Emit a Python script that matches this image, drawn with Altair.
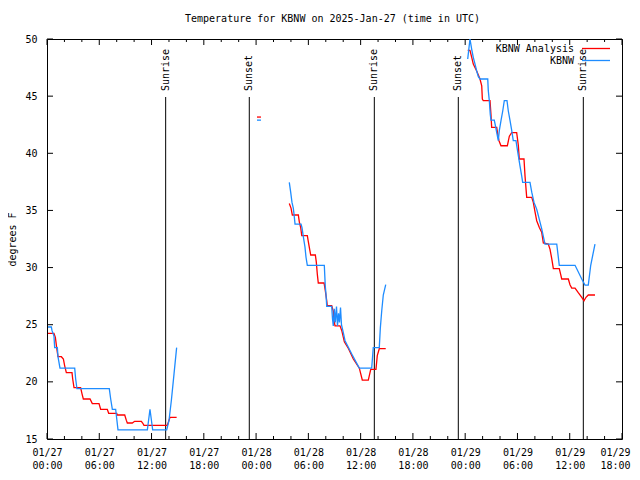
import altair as alt
import pandas as pd

W, H = 575, 400
FONT = "DejaVu Sans Mono"

# hours since 2025-01-27 00:00 UTC ; None separates line pieces
analysis_hours = [
    0.11, 0.80, 0.96, 1.11, 1.26, 1.65, 1.88, 2.03, 2.22, 2.87, 2.95, 3.10, 3.86, 4.02, 4.17,
    4.94, 5.20, 5.97, 6.16, 6.92, 7.08, 8.00, 8.07, 8.92, 9.10, 9.22, 9.79, 10.06, 10.83, 10.98,
    11.13, 13.81, 14.12, 14.88,
    None,
    24.10, 24.56,
    None,
    27.81, 28.01, 28.16, 28.85, 28.96, 29.12, 29.24, 29.88, 29.99, 30.15, 30.27, 30.80, 30.91,
    31.03, 31.14, 31.80, 31.94, 32.11, 32.17, 32.68, 32.86, 32.94, 33.06, 33.63, 33.83, 34.13,
    34.61, 35.16, 35.85, 36.19, 36.88, 37.16, 37.76, 37.91, 38.14, 38.88,
    None,
    48.29, 48.55, 48.75, 48.93, 49.32, 49.70, 49.90, 49.97, 50.08, 50.85, 50.96, 51.04, 51.62,
    51.73, 51.88, 52.11, 52.84, 53.07, 53.34, 53.91, 54.10, 54.21, 54.75, 54.87, 55.06, 55.64,
    55.82, 56.01, 56.21, 56.51, 56.78, 56.97, 57.54, 57.74, 57.93, 58.12, 58.80, 58.96, 59.08,
    59.84, 60.03, 60.23, 60.61, 60.98, 61.38, 61.64, 61.87, 62.13, 62.90,
]
analysis_temps = [
    24.25, 24.25, 23.9, 23.0, 22.2, 22.2, 22.0, 21.4, 20.8, 20.8, 20.25, 19.5, 19.5, 18.95, 18.5,
    18.5, 18.1, 18.1, 17.6, 17.6, 17.25, 17.25, 17.1, 17.1, 16.65, 16.4, 16.4, 16.55, 16.55, 16.4,
    16.2, 16.2, 16.9, 16.9,
    None,
    43.17, 43.17,
    None,
    35.6, 35.2, 34.6, 34.6, 34.0, 33.5, 32.8, 32.8, 32.3, 31.6, 31.1, 31.1, 30.5, 29.4, 28.65,
    28.65, 28.0, 27.1, 26.66, 26.66, 26.2, 25.4, 24.9, 24.9, 24.5, 23.5, 22.9, 22.0, 21.2, 20.16,
    20.16, 21.1, 21.1, 22.3, 22.9, 22.9,
    None,
    49.0, 49.0, 48.4, 47.8, 47.2, 46.5, 45.9, 44.75, 44.6, 44.6, 43.4, 42.27, 42.27, 41.7, 41.1,
    40.66, 40.66, 41.5, 41.8, 41.8, 40.7, 39.5, 39.5, 38.0, 36.15, 36.15, 35.7, 34.9, 34.1, 33.5,
    33.1, 32.15, 32.06, 31.6, 30.8, 29.9, 29.9, 29.4, 29.0, 29.0, 28.5, 28.2, 28.2, 27.8, 27.4,
    27.1, 27.4, 27.6, 27.6,
]

kbnw_hours = [
    0.11, 0.50, 0.57, 0.80, 0.88, 1.19, 1.26, 1.49, 3.18, 3.29, 3.44, 7.15, 7.31, 7.50, 7.88,
    8.15, 11.52, 11.82, 12.13, 13.74, 14.00, 14.27, 14.58, 14.88,
    None,
    24.10, 24.56,
    None,
    27.81, 27.97, 28.12, 28.27, 28.35, 28.47, 29.16, 29.27, 29.42, 29.61, 29.73, 29.88, 31.83,
    31.94, 32.02, 32.11, 32.68, 32.77, 32.86, 32.98, 33.09, 33.23, 33.34, 33.46, 33.57, 33.69,
    33.80, 34.01, 34.21, 35.01, 35.85, 37.27, 37.45, 38.14, 38.26, 38.42, 38.60, 38.88,
    None,
    48.29, 48.55, 48.75, 48.93, 49.13, 49.32, 49.51, 49.70, 50.59, 50.65, 50.77, 50.88, 50.96,
    51.34, 51.50, 51.65, 51.80, 51.92, 52.11, 52.31, 52.49, 52.80, 52.95, 53.15, 53.34, 53.52,
    53.83, 54.10, 54.29, 54.49, 54.60, 55.44, 55.64, 55.90, 56.21, 56.78, 57.16, 58.51, 58.80,
    60.61, 61.38, 61.75, 62.13, 62.41, 62.90,
]
kbnw_temps = [
    24.8, 24.8, 24.5, 24.0, 23.0, 23.0, 22.2, 21.2, 21.2, 20.25, 19.4, 19.4, 18.5, 17.6, 17.6,
    15.8, 15.8, 17.6, 15.8, 15.8, 16.6, 18.35, 20.7, 23.0,
    None,
    42.9, 42.9,
    None,
    37.46, 36.6, 35.7, 35.2, 34.7, 33.8, 33.8, 33.5, 32.7, 31.8, 30.9, 30.2, 30.2, 28.4, 27.7,
    26.6, 26.6, 25.5, 24.9, 26.4, 25.2, 26.6, 24.9, 26.0, 25.2, 26.5, 25.0, 24.3, 23.6, 22.4,
    21.2, 21.2, 23.0, 23.0, 24.7, 26.2, 27.6, 28.5,
    None,
    48.25, 50.0, 49.1, 48.4, 47.8, 47.2, 46.7, 46.5, 46.5, 45.5, 44.6, 43.4, 42.9, 42.9, 42.3,
    41.7, 41.1, 42.0, 42.85, 43.7, 44.6, 44.6, 43.7, 42.85, 42.0, 41.1, 41.1, 39.8, 38.9, 38.0,
    37.46, 37.46, 36.6, 35.7, 35.1, 33.4, 32.06, 32.06, 30.2, 30.2, 29.0, 28.47, 28.47, 30.2, 32.06,
]

event_hours = [13.62, 23.22, 37.57, 47.21, 61.56]
event_labels = ["Sunrise", "Sunset", "Sunrise", "Sunset", "Sunrise"]

y_ticks = [15, 20, 25, 30, 35, 40, 45, 50]
x_major = list(range(0, 67, 6))
x_minor = [h for h in range(0, 67, 2) if h % 6]

title_text = ["Temperature for KBNW on 2025-Jan-27 (time in UTC)"]
series_names = ["KBNW Analysis", "KBNW"]
series_colors = ["#ff0000", "#1e8cff"]


def pieces(hours, temps, name):
    rows, seg = [], 0
    for h, t in zip(hours, temps):
        if h is None:
            seg += 1
            continue
        rows.append({"hour": h, "temp": t, "seg": f"{name}-{seg}"})
    return pd.DataFrame(rows)


df_a = pieces(analysis_hours, analysis_temps, "a")
df_k = pieces(kbnw_hours, kbnw_temps, "k")
df_ev = pd.DataFrame({"hour": event_hours, "label": event_labels})
df_maj = pd.DataFrame({"hour": x_major})
df_min = pd.DataFrame({"hour": x_minor})
df_yt = pd.DataFrame({"temp": y_ticks})

x_axis = alt.Axis(
    values=x_major, ticks=False, domain=False, grid=False, labelFlush=False,
    labelOverlap=False, labelPadding=8, labelLineHeight=13, labelFont=FONT,
    labelFontSize=10, labelColor="black", title="",
    labelOffset={"condition": {"test": "datum.value >= 66", "value": -7}, "value": 0},
    labelExpr="['01/' + (27 + floor(datum.value / 24)), "
              "(datum.value % 24 < 10 ? '0' : '') + (datum.value % 24) + ':00']",
)
y_axis = alt.Axis(
    values=y_ticks, ticks=False, domain=False, grid=False, labelFlush=False,
    labelPadding=10, labelFont=FONT, labelFontSize=10, labelColor="black",
    title="degrees F", titleFont=FONT, titleFontSize=10, titleFontWeight="normal",
    titleColor="black", titleX=-35, titleY=200, titleAngle=270, titleBaseline="middle",
)
xs = alt.Scale(domain=[0, 66], nice=False, zero=False)
ys = alt.Scale(domain=[15, 50], nice=False, zero=False)
xenc = alt.X("hour:Q", scale=xs, axis=x_axis)
yenc = alt.Y("temp:Q", scale=ys, axis=y_axis)

line_a = alt.Chart(df_a).mark_line(color=series_colors[0], strokeWidth=1.3, clip=True).encode(
    x=xenc, y=yenc, detail="seg:N")
line_k = alt.Chart(df_k).mark_line(color=series_colors[1], strokeWidth=1.3, clip=True).encode(
    x=xenc, y=yenc, detail="seg:N")

ev_rule = alt.Chart(df_ev).mark_rule(color="black", strokeWidth=1).encode(
    x=xenc, y=alt.value(58), y2=alt.value(H))
ev_text = alt.Chart(df_ev).mark_text(
    angle=270, align="left", baseline="middle", font=FONT, fontSize=10, color="black"
).encode(x=xenc, y=alt.value(52), text="label:N")

tick_layers = [
    alt.Chart(df_maj).mark_rule(color="black").encode(x=xenc, y=alt.value(H), y2=alt.value(H - 6)),
    alt.Chart(df_maj).mark_rule(color="black").encode(x=xenc, y=alt.value(0), y2=alt.value(6)),
    alt.Chart(df_min).mark_rule(color="black").encode(x=xenc, y=alt.value(H), y2=alt.value(H - 3)),
    alt.Chart(df_min).mark_rule(color="black").encode(x=xenc, y=alt.value(0), y2=alt.value(3)),
    alt.Chart(df_yt).mark_rule(color="black").encode(y=yenc, x=alt.value(0), x2=alt.value(6)),
    alt.Chart(df_yt).mark_rule(color="black").encode(y=yenc, x=alt.value(W), x2=alt.value(W - 6)),
]

title_layer = alt.Chart(pd.DataFrame({"t": title_text})).mark_text(
    align="center", baseline="middle", font=FONT, fontSize=10, color="black"
).encode(text="t:N", x=alt.value(W / 2 - 2), y=alt.value(-20))

legend_layers = []
for i, (name, col) in enumerate(zip(series_names, series_colors)):
    ly = 10 + 12 * i
    legend_layers.append(
        alt.Chart(pd.DataFrame({"name": [name]})).mark_text(
            align="right", baseline="middle", font=FONT, fontSize=10, color="black"
        ).encode(text="name:N", x=alt.value(W - 48), y=alt.value(ly))
    )
    legend_layers.append(
        alt.Chart(pd.DataFrame({"name": [name]})).mark_rule(color=col, strokeWidth=1.3).encode(
            x=alt.value(W - 40), x2=alt.value(W - 12), y=alt.value(ly - 0.5))
    )

chart = alt.layer(
    *tick_layers, ev_rule, ev_text, line_a, line_k, title_layer, *legend_layers
).properties(
    width=W, height=H,
    autosize=alt.AutoSizeParams(type="none"),
    padding={"left": 39, "top": 31, "right": 10, "bottom": 31},
    background="white",
).configure_view(stroke="black", strokeWidth=1)

chart.save("out.html", embed_options={"renderer": "svg", "actions": False})
